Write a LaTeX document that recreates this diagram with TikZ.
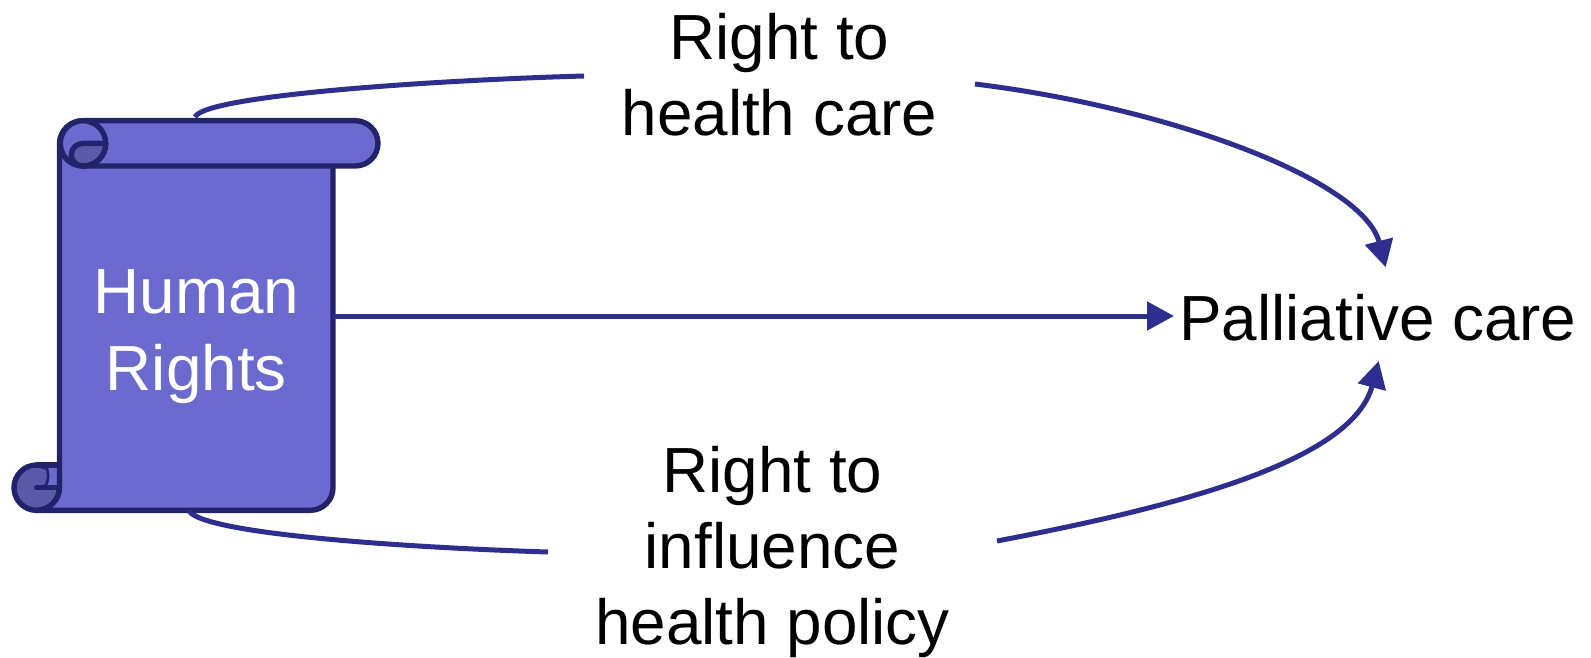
\documentclass[tikz,border=0pt]{standalone}
\usepackage{fontspec}
\setmainfont{Liberation Sans}
\usetikzlibrary{arrows.meta}
\definecolor{scrollfill}{RGB}{107,107,207}
\definecolor{scrolldark}{RGB}{90,90,168}
\definecolor{scrollline}{RGB}{35,35,107}
\definecolor{linkcol}{RGB}{46,46,142}
\tikzset{
  x=0.5pt,y=-0.5pt,
  scrollpart/.style={draw=scrollline,line width=2.7pt,fill=scrollfill,line join=round,line cap=round},
  scrollcorner/.style={scrollpart,rounded corners=11.35pt},
  link/.style={draw=linkcol,line width=2.5pt},
  linkarrow/.style={link,-{Triangle[length=13.5pt,width=14pt]}},
  label/.style={font=\fontsize{31.9}{38}\selectfont,align=center,inner sep=0pt,text=black},
}
\begin{document}
\begin{tikzpicture}
\useasboundingbox (0,0) rectangle (1591,658);
% bottom curl
\path[scrollpart,fill=scrolldark] (36.7,487.7) circle[radius=22.7];
\path[fill=scrollfill] (36.7,466) -- (60,466) -- (60,487.7) -- (44,487.7) .. controls (48,485) and (50,476) .. (46,466) -- cycle;
\draw[scrollpart,fill=none] (36.7,465) -- (59.5,465);
\draw[scrollpart,fill=none] (36.7,487.7) -- (59.5,487.7);
\draw[scrollpart,fill=none,line width=1.3pt] (43,487.7) .. controls (48,485) and (50,476) .. (46,466);
% body
\path[scrollpart] (83,120.7) .. controls (70,120.7) and (59.5,131) .. (59.5,143.4) -- (59.5,487.7)
  .. controls (59.5,500) and (49,510.3) .. (36.7,510.3) -- (310.5,510.3)
  .. controls (323,510.3) and (333,500) .. (333,487.7) -- (333,150);
% top roll
\path[scrollcorner] (83,120.7) -- (378,120.7) -- (378,166) -- (83,166);
\path[scrollpart] (83,143.4) circle[radius=22.7];
\path[scrollpart,fill=scrolldark] (105.7,143.4) -- (83,143.4) .. controls (76.5,143.4) and (71.3,148.5) .. (71.3,154.7) .. controls (71.3,161) and (76.5,166) .. (83,166) .. controls (95.5,166) and (105.7,156) .. (105.7,143.4) -- cycle;
% text nodes
\node[label,text=white,minimum width=136.75pt,minimum height=194.65pt] (hr) at (196.3,337) {Human\\[0.4pt]Rights};
\node[label] (rhc) at (779.5,75) {Right to\\health care};
\node[label] (rip) at (772.5,552) {Right to\\influence\\health policy};
\node[label,inner xsep=2.5pt] (pc) at (1378,318) {Palliative care};
% free connector ends
\coordinate (a1) at (195,117);
\coordinate (a2) at (584,76);
\coordinate (a3) at (975,84);
\coordinate (a4) at (1385.7,267.3);
\coordinate (b1) at (189,511);
\coordinate (b2) at (548,552);
\coordinate (b3) at (997,541);
\coordinate (b4) at (1378.7,361);
\coordinate (pcin) at ([yshift=1pt]pc.west);
% connectors
\draw[link] (a1) .. controls (205,95) and (440,80) .. (a2);
\draw[linkarrow] (a3) .. controls (1170,108) and (1363,180) .. (a4);
\draw[linkarrow] (hr.east |- pcin) -- (pcin);
\draw[link] (b1) .. controls (205,535) and (420,548) .. (b2);
\draw[linkarrow] (b3) .. controls (1175,507) and (1352,462) .. (b4);
\end{tikzpicture}
\end{document}
